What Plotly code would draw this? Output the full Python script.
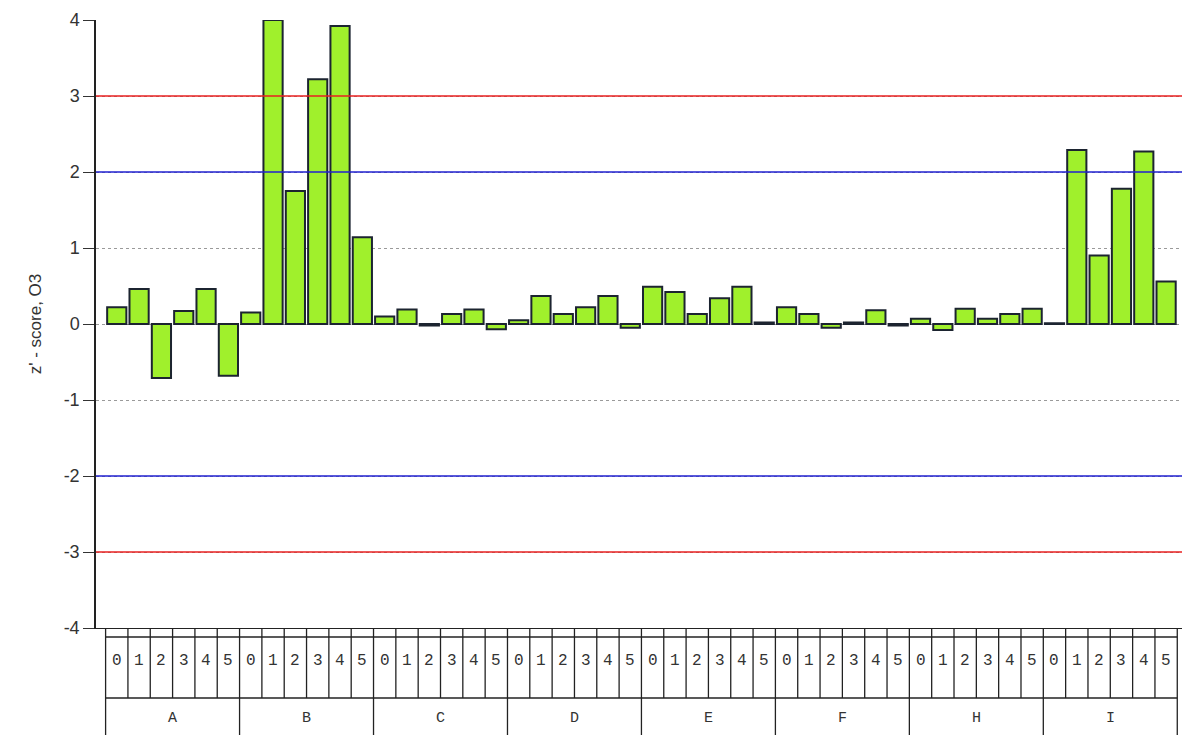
import plotly.graph_objects as go

groups = ["A", "B", "C", "D", "E", "F", "H", "I"]
subs = ["0", "1", "2", "3", "4", "5"]
values = [
    0.22, 0.46, -0.71, 0.17, 0.46, -0.68,   # A
    0.15, 4.00, 1.75, 3.22, 3.92, 1.14,     # B
    0.10, 0.19, -0.02, 0.13, 0.19, -0.07,   # C
    0.05, 0.37, 0.13, 0.22, 0.37, -0.05,    # D
    0.49, 0.42, 0.13, 0.34, 0.49, 0.02,     # E
    0.22, 0.13, -0.05, 0.02, 0.18, -0.02,   # F
    0.07, -0.08, 0.20, 0.07, 0.13, 0.20,    # H
    0.01, 2.29, 0.90, 1.78, 2.27, 0.56,     # I
]
y_ticks = [-4, -3, -2, -1, 0, 1, 2, 3, 4]
y_tick_text = ["-4", "-3", "-2", "-1", "0", "1", "2", "3", "4"]
red_levels = [3, -3]
blue_levels = [2, -2]

n = len(values)
xs = list(range(n))

fig = go.Figure()
fig.add_trace(go.Bar(
    x=xs, y=values,
    marker=dict(color="#a0f02c", line=dict(color="#1c2430", width=2)),
    hoverinfo="y",
))

H_PLOT = 608.0
def py(p):
    # p: pixel row in the reference screenshot
    return (628.0 - p) / H_PLOT

shapes = []
for lv in red_levels:
    shapes.append(dict(type="line", xref="paper", yref="y", x0=0, x1=1, y0=lv, y1=lv,
                       line=dict(color="#e82020", width=1.5), layer="above"))
for lv in blue_levels:
    shapes.append(dict(type="line", xref="paper", yref="y", x0=0, x1=1, y0=lv, y1=lv,
                       line=dict(color="#2020d0", width=1.5), layer="above"))

tc = "#222222"
shapes.append(dict(type="line", xref="x", yref="paper", x0=-0.5, x1=n - 0.5,
                   y0=py(637), y1=py(637), line=dict(color=tc, width=1.3)))
shapes.append(dict(type="line", xref="x", yref="paper", x0=-0.5, x1=n - 0.5,
                   y0=py(698), y1=py(698), line=dict(color=tc, width=1.3)))
for k in range(n + 1):
    shapes.append(dict(type="line", xref="x", yref="paper", x0=k - 0.5, x1=k - 0.5,
                       y0=py(628), y1=py(698), line=dict(color=tc, width=1.3)))
for g in range(len(groups) + 1):
    xg = g * len(subs) - 0.5
    shapes.append(dict(type="line", xref="x", yref="paper", x0=xg, x1=xg,
                       y0=py(698), y1=py(745), line=dict(color=tc, width=1.3)))

annotations = []
for i in range(n):
    annotations.append(dict(x=i, y=py(661), xref="x", yref="paper", text=subs[i % len(subs)],
                            showarrow=False, font=dict(family="Liberation Mono", size=16, color="#333333"),
                            yanchor="middle"))
for g, name in enumerate(groups):
    annotations.append(dict(x=g * len(subs) + 2.5, y=py(718), xref="x", yref="paper", text=name,
                            showarrow=False, font=dict(family="Liberation Mono", size=15, color="#333333"),
                            yanchor="middle"))

fig.update_layout(
    width=1182, height=727,
    margin=dict(l=88, r=0, t=12, b=107),
    paper_bgcolor="white", plot_bgcolor="white",
    showlegend=False,
    bargap=0.14,
    shapes=shapes,
    annotations=annotations,
    font=dict(family="Liberation Sans", color="#333333"),
)
fig.update_xaxes(
    range=[-0.93, n + 0.07], showticklabels=False, ticks="", showgrid=False,
    zeroline=False, showline=True, linecolor=tc, linewidth=1.3,
)
fig.update_yaxes(
    range=[-4, 4], tickvals=y_ticks, ticktext=y_tick_text,
    ticks="outside", ticklen=11, tickcolor="#333333",
    tickfont=dict(size=18, color="#333333"),
    showline=True, linecolor="#222222", linewidth=1.5,
    showgrid=True, gridcolor="#9a9a9a", griddash="dot", gridwidth=1,
    zeroline=False,
    title=dict(text="z' - score, O3", font=dict(size=17, color="#333333"), standoff=18),
)

fig.write_html("out.html")
